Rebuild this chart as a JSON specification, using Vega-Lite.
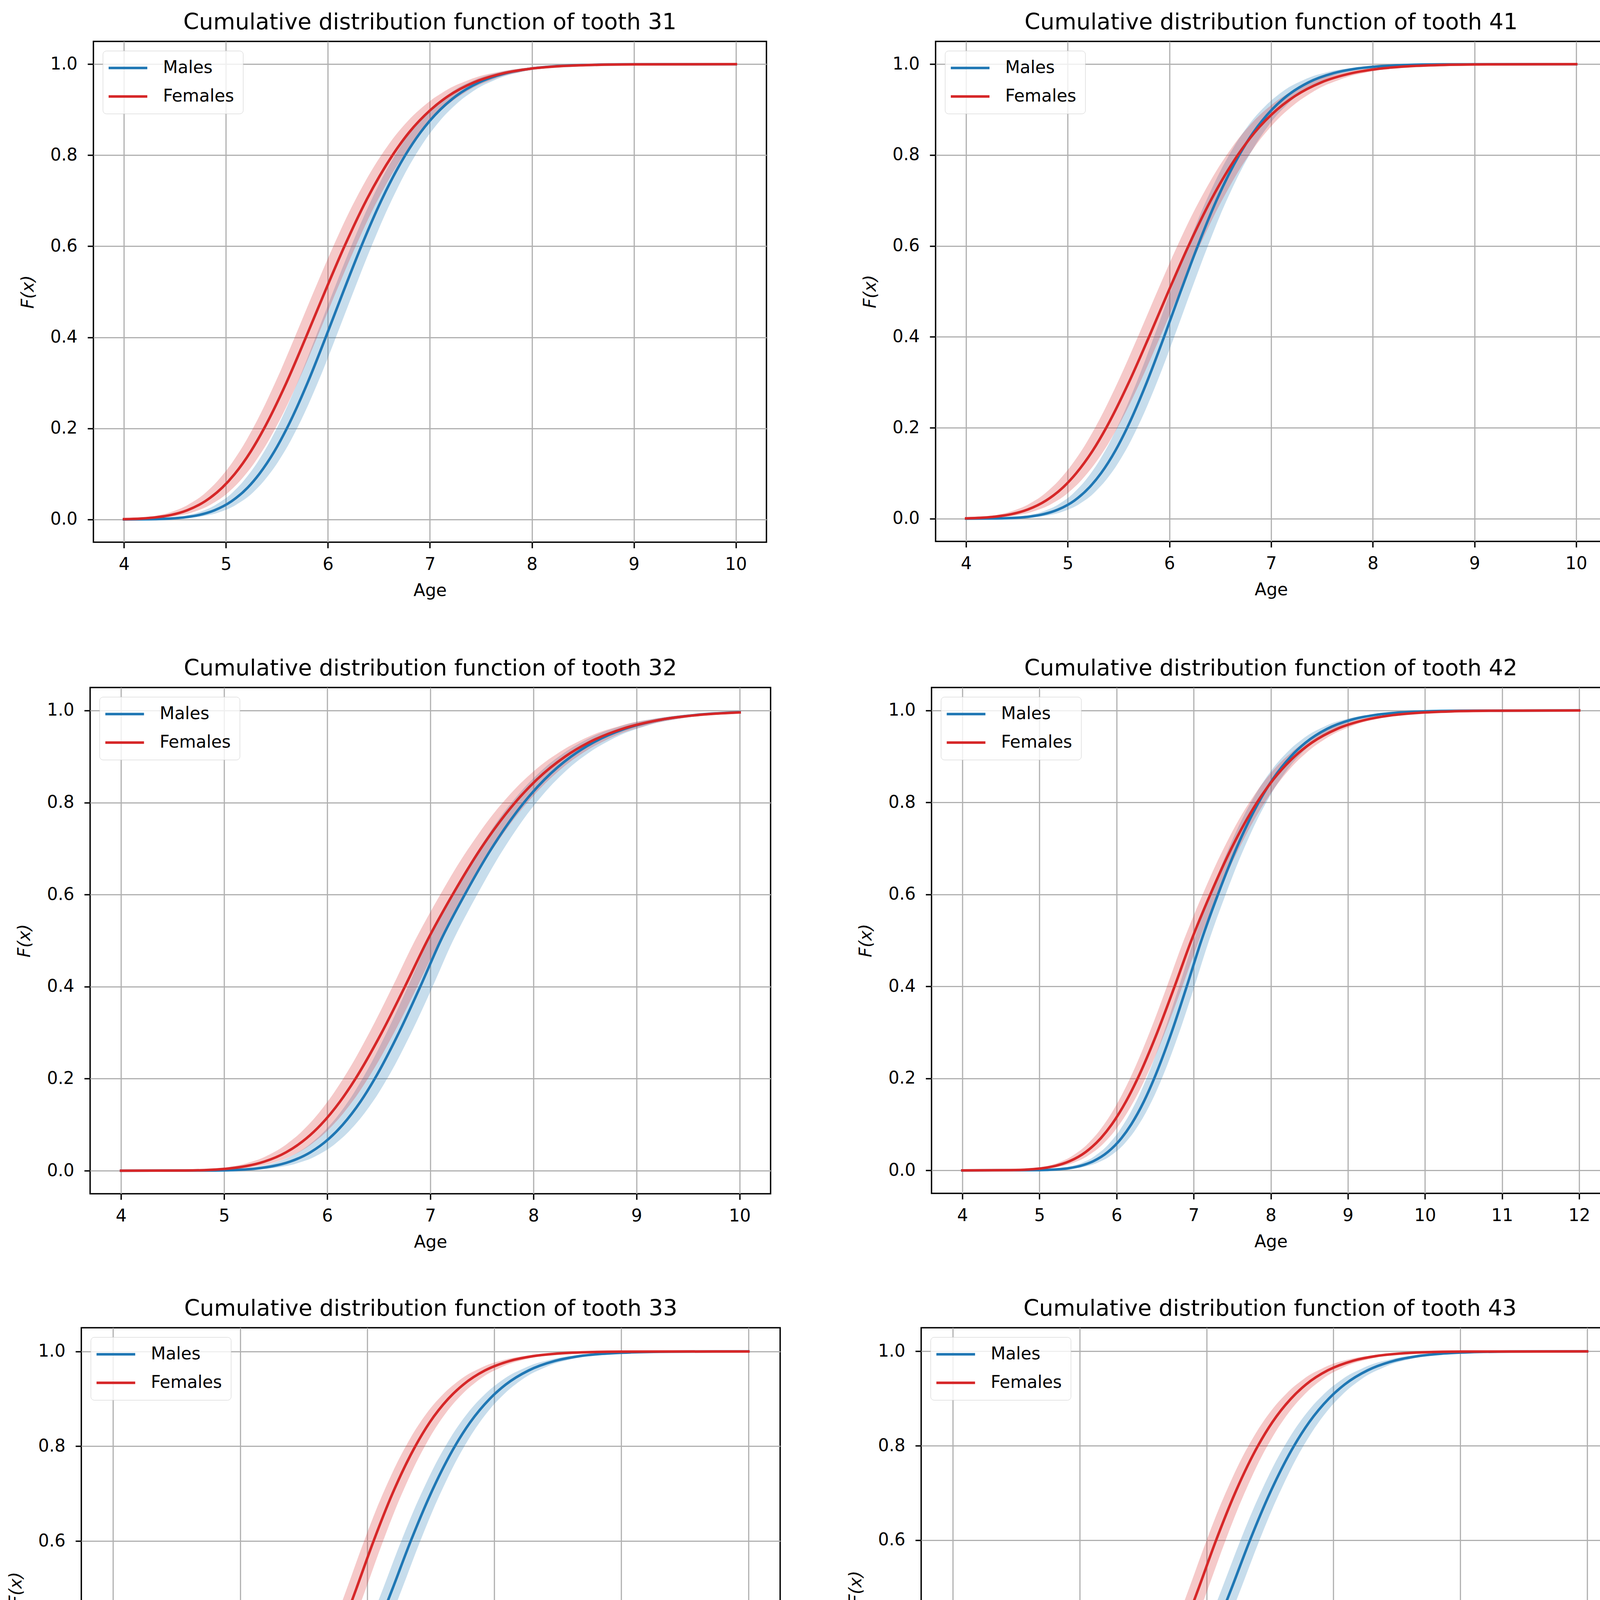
{
  "$schema": "https://vega.github.io/schema/vega-lite/v6.json",
  "background": "white",
  "padding": {"left": 17, "top": 26, "right": 10, "bottom": 10},
  "datasets": {
    "cdf": [
      {"t":31,"s":"Males","F":0,"a":4,"lo":4,"hi":4},
      {"t":31,"s":"Males","F":0.0005,"a":4.254,"lo":4.154,"hi":4.354},
      {"t":31,"s":"Males","F":0.002,"a":4.455,"lo":4.355,"hi":4.555},
      {"t":31,"s":"Males","F":0.005,"a":4.609,"lo":4.509,"hi":4.709},
      {"t":31,"s":"Males","F":0.01,"a":4.740,"lo":4.640,"hi":4.840},
      {"t":31,"s":"Males","F":0.02,"a":4.886,"lo":4.786,"hi":4.986},
      {"t":31,"s":"Males","F":0.04,"a":5.055,"lo":4.955,"hi":5.155},
      {"t":31,"s":"Males","F":0.07,"a":5.213,"lo":5.113,"hi":5.313},
      {"t":31,"s":"Males","F":0.1,"a":5.327,"lo":5.227,"hi":5.427},
      {"t":31,"s":"Males","F":0.15,"a":5.476,"lo":5.376,"hi":5.576},
      {"t":31,"s":"Males","F":0.2,"a":5.597,"lo":5.497,"hi":5.697},
      {"t":31,"s":"Males","F":0.3,"a":5.800,"lo":5.700,"hi":5.900},
      {"t":31,"s":"Males","F":0.4,"a":5.978,"lo":5.878,"hi":6.078},
      {"t":31,"s":"Males","F":0.5,"a":6.150,"lo":6.050,"hi":6.250},
      {"t":31,"s":"Males","F":0.6,"a":6.327,"lo":6.227,"hi":6.427},
      {"t":31,"s":"Males","F":0.7,"a":6.522,"lo":6.422,"hi":6.622},
      {"t":31,"s":"Males","F":0.8,"a":6.758,"lo":6.658,"hi":6.858},
      {"t":31,"s":"Males","F":0.85,"a":6.907,"lo":6.807,"hi":7.007},
      {"t":31,"s":"Males","F":0.9,"a":7.100,"lo":7.000,"hi":7.200},
      {"t":31,"s":"Males","F":0.93,"a":7.256,"lo":7.156,"hi":7.356},
      {"t":31,"s":"Males","F":0.96,"a":7.483,"lo":7.383,"hi":7.583},
      {"t":31,"s":"Males","F":0.98,"a":7.741,"lo":7.641,"hi":7.841},
      {"t":31,"s":"Males","F":0.99,"a":7.980,"lo":7.880,"hi":8.080},
      {"t":31,"s":"Males","F":0.995,"a":8.207,"lo":8.107,"hi":8.307},
      {"t":31,"s":"Males","F":0.998,"a":8.489,"lo":8.389,"hi":8.589},
      {"t":31,"s":"Males","F":0.9995,"a":8.890,"lo":8.790,"hi":8.990},
      {"t":31,"s":"Males","F":1,"a":10,"lo":10,"hi":10},

      {"t":31,"s":"Females","F":0.0007,"a":4,"lo":4,"hi":4},
      {"t":31,"s":"Females","F":0.002,"a":4.166,"lo":4.056,"hi":4.276},
      {"t":31,"s":"Females","F":0.005,"a":4.326,"lo":4.216,"hi":4.436},
      {"t":31,"s":"Females","F":0.01,"a":4.464,"lo":4.354,"hi":4.574},
      {"t":31,"s":"Females","F":0.02,"a":4.618,"lo":4.508,"hi":4.728},
      {"t":31,"s":"Females","F":0.04,"a":4.796,"lo":4.686,"hi":4.906},
      {"t":31,"s":"Females","F":0.07,"a":4.964,"lo":4.854,"hi":5.074},
      {"t":31,"s":"Females","F":0.1,"a":5.086,"lo":4.976,"hi":5.196},
      {"t":31,"s":"Females","F":0.15,"a":5.245,"lo":5.135,"hi":5.355},
      {"t":31,"s":"Females","F":0.2,"a":5.374,"lo":5.264,"hi":5.484},
      {"t":31,"s":"Females","F":0.3,"a":5.592,"lo":5.482,"hi":5.702},
      {"t":31,"s":"Females","F":0.4,"a":5.784,"lo":5.674,"hi":5.894},
      {"t":31,"s":"Females","F":0.5,"a":5.970,"lo":5.860,"hi":6.080},
      {"t":31,"s":"Females","F":0.6,"a":6.162,"lo":6.052,"hi":6.272},
      {"t":31,"s":"Females","F":0.7,"a":6.374,"lo":6.264,"hi":6.484},
      {"t":31,"s":"Females","F":0.8,"a":6.633,"lo":6.523,"hi":6.743},
      {"t":31,"s":"Females","F":0.85,"a":6.795,"lo":6.685,"hi":6.905},
      {"t":31,"s":"Females","F":0.9,"a":7.008,"lo":6.898,"hi":7.118},
      {"t":31,"s":"Females","F":0.93,"a":7.180,"lo":7.070,"hi":7.290},
      {"t":31,"s":"Females","F":0.96,"a":7.431,"lo":7.321,"hi":7.541},
      {"t":31,"s":"Females","F":0.98,"a":7.718,"lo":7.608,"hi":7.828},
      {"t":31,"s":"Females","F":0.99,"a":7.984,"lo":7.874,"hi":8.094},
      {"t":31,"s":"Females","F":0.995,"a":8.238,"lo":8.128,"hi":8.348},
      {"t":31,"s":"Females","F":0.998,"a":8.555,"lo":8.445,"hi":8.665},
      {"t":31,"s":"Females","F":0.9995,"a":9.007,"lo":8.897,"hi":9.117},
      {"t":31,"s":"Females","F":1,"a":10,"lo":10,"hi":10},

      {"t":41,"s":"Males","F":0,"a":4,"lo":4,"hi":4},
      {"t":41,"s":"Males","F":0.0005,"a":4.297,"lo":4.197,"hi":4.397},
      {"t":41,"s":"Males","F":0.002,"a":4.491,"lo":4.391,"hi":4.591},
      {"t":41,"s":"Males","F":0.005,"a":4.638,"lo":4.538,"hi":4.738},
      {"t":41,"s":"Males","F":0.01,"a":4.764,"lo":4.664,"hi":4.864},
      {"t":41,"s":"Males","F":0.02,"a":4.904,"lo":4.804,"hi":5.004},
      {"t":41,"s":"Males","F":0.04,"a":5.066,"lo":4.966,"hi":5.166},
      {"t":41,"s":"Males","F":0.07,"a":5.217,"lo":5.117,"hi":5.317},
      {"t":41,"s":"Males","F":0.1,"a":5.327,"lo":5.227,"hi":5.427},
      {"t":41,"s":"Males","F":0.15,"a":5.469,"lo":5.369,"hi":5.569},
      {"t":41,"s":"Males","F":0.2,"a":5.584,"lo":5.484,"hi":5.684},
      {"t":41,"s":"Males","F":0.3,"a":5.777,"lo":5.677,"hi":5.877},
      {"t":41,"s":"Males","F":0.4,"a":5.947,"lo":5.847,"hi":6.047},
      {"t":41,"s":"Males","F":0.5,"a":6.110,"lo":6.010,"hi":6.210},
      {"t":41,"s":"Males","F":0.6,"a":6.278,"lo":6.178,"hi":6.378},
      {"t":41,"s":"Males","F":0.7,"a":6.462,"lo":6.362,"hi":6.562},
      {"t":41,"s":"Males","F":0.8,"a":6.686,"lo":6.586,"hi":6.786},
      {"t":41,"s":"Males","F":0.85,"a":6.826,"lo":6.726,"hi":6.926},
      {"t":41,"s":"Males","F":0.9,"a":7.008,"lo":6.908,"hi":7.108},
      {"t":41,"s":"Males","F":0.93,"a":7.155,"lo":7.055,"hi":7.255},
      {"t":41,"s":"Males","F":0.96,"a":7.369,"lo":7.269,"hi":7.469},
      {"t":41,"s":"Males","F":0.98,"a":7.612,"lo":7.512,"hi":7.712},
      {"t":41,"s":"Males","F":0.99,"a":7.837,"lo":7.737,"hi":7.937},
      {"t":41,"s":"Males","F":0.995,"a":8.049,"lo":7.949,"hi":8.149},
      {"t":41,"s":"Males","F":0.998,"a":8.314,"lo":8.214,"hi":8.414},
      {"t":41,"s":"Males","F":0.9995,"a":8.688,"lo":8.588,"hi":8.788},
      {"t":41,"s":"Males","F":1,"a":10,"lo":10,"hi":10},

      {"t":41,"s":"Females","F":0.0008,"a":4,"lo":4,"hi":4},
      {"t":41,"s":"Females","F":0.002,"a":4.144,"lo":4.034,"hi":4.254},
      {"t":41,"s":"Females","F":0.005,"a":4.307,"lo":4.197,"hi":4.417},
      {"t":41,"s":"Females","F":0.01,"a":4.448,"lo":4.338,"hi":4.558},
      {"t":41,"s":"Females","F":0.02,"a":4.605,"lo":4.495,"hi":4.715},
      {"t":41,"s":"Females","F":0.04,"a":4.787,"lo":4.677,"hi":4.897},
      {"t":41,"s":"Females","F":0.07,"a":4.959,"lo":4.849,"hi":5.069},
      {"t":41,"s":"Females","F":0.1,"a":5.083,"lo":4.973,"hi":5.193},
      {"t":41,"s":"Females","F":0.15,"a":5.246,"lo":5.136,"hi":5.356},
      {"t":41,"s":"Females","F":0.2,"a":5.378,"lo":5.268,"hi":5.488},
      {"t":41,"s":"Females","F":0.3,"a":5.601,"lo":5.491,"hi":5.711},
      {"t":41,"s":"Females","F":0.4,"a":5.799,"lo":5.689,"hi":5.909},
      {"t":41,"s":"Females","F":0.5,"a":5.990,"lo":5.880,"hi":6.100},
      {"t":41,"s":"Females","F":0.6,"a":6.187,"lo":6.077,"hi":6.297},
      {"t":41,"s":"Females","F":0.7,"a":6.406,"lo":6.296,"hi":6.516},
      {"t":41,"s":"Females","F":0.8,"a":6.672,"lo":6.562,"hi":6.782},
      {"t":41,"s":"Females","F":0.85,"a":6.839,"lo":6.729,"hi":6.949},
      {"t":41,"s":"Females","F":0.9,"a":7.058,"lo":6.948,"hi":7.168},
      {"t":41,"s":"Females","F":0.93,"a":7.236,"lo":7.126,"hi":7.346},
      {"t":41,"s":"Females","F":0.96,"a":7.495,"lo":7.385,"hi":7.605},
      {"t":41,"s":"Females","F":0.98,"a":7.791,"lo":7.681,"hi":7.901},
      {"t":41,"s":"Females","F":0.99,"a":8.067,"lo":7.957,"hi":8.177},
      {"t":41,"s":"Females","F":0.995,"a":8.330,"lo":8.220,"hi":8.440},
      {"t":41,"s":"Females","F":0.998,"a":8.658,"lo":8.548,"hi":8.768},
      {"t":41,"s":"Females","F":0.9995,"a":9.127,"lo":9.017,"hi":9.237},
      {"t":41,"s":"Females","F":1,"a":10,"lo":10,"hi":10},

      {"t":32,"s":"Males","F":0,"a":4,"lo":4,"hi":4},
      {"t":32,"s":"Males","F":0.0005,"a":4.912,"lo":4.792,"hi":5.032},
      {"t":32,"s":"Males","F":0.002,"a":5.144,"lo":5.024,"hi":5.264},
      {"t":32,"s":"Males","F":0.005,"a":5.321,"lo":5.201,"hi":5.441},
      {"t":32,"s":"Males","F":0.01,"a":5.472,"lo":5.352,"hi":5.592},
      {"t":32,"s":"Males","F":0.02,"a":5.641,"lo":5.521,"hi":5.761},
      {"t":32,"s":"Males","F":0.04,"a":5.836,"lo":5.716,"hi":5.956},
      {"t":32,"s":"Males","F":0.07,"a":6.018,"lo":5.898,"hi":6.138},
      {"t":32,"s":"Males","F":0.1,"a":6.150,"lo":6.030,"hi":6.270},
      {"t":32,"s":"Males","F":0.15,"a":6.322,"lo":6.202,"hi":6.442},
      {"t":32,"s":"Males","F":0.2,"a":6.461,"lo":6.341,"hi":6.581},
      {"t":32,"s":"Males","F":0.3,"a":6.695,"lo":6.575,"hi":6.815},
      {"t":32,"s":"Males","F":0.4,"a":6.902,"lo":6.782,"hi":7.022},
      {"t":32,"s":"Males","F":0.5,"a":7.100,"lo":6.980,"hi":7.220},
      {"t":32,"s":"Males","F":0.6,"a":7.334,"lo":7.214,"hi":7.454},
      {"t":32,"s":"Males","F":0.7,"a":7.593,"lo":7.473,"hi":7.713},
      {"t":32,"s":"Males","F":0.8,"a":7.908,"lo":7.788,"hi":8.028},
      {"t":32,"s":"Males","F":0.85,"a":8.107,"lo":7.987,"hi":8.227},
      {"t":32,"s":"Males","F":0.9,"a":8.366,"lo":8.246,"hi":8.486},
      {"t":32,"s":"Males","F":0.93,"a":8.577,"lo":8.457,"hi":8.697},
      {"t":32,"s":"Males","F":0.96,"a":8.884,"lo":8.764,"hi":9.004},
      {"t":32,"s":"Males","F":0.98,"a":9.235,"lo":9.115,"hi":9.355},
      {"t":32,"s":"Males","F":0.99,"a":9.562,"lo":9.442,"hi":9.682},
      {"t":32,"s":"Males","F":0.995,"a":9.873,"lo":9.753,"hi":9.993},
      {"t":32,"s":"Males","F":0.9963,"a":10,"lo":9.880,"hi":10},

      {"t":32,"s":"Females","F":0,"a":4,"lo":4,"hi":4},
      {"t":32,"s":"Females","F":0.0005,"a":4.620,"lo":4.500,"hi":4.740},
      {"t":32,"s":"Females","F":0.002,"a":4.864,"lo":4.744,"hi":4.984},
      {"t":32,"s":"Females","F":0.005,"a":5.051,"lo":4.931,"hi":5.171},
      {"t":32,"s":"Females","F":0.01,"a":5.212,"lo":5.092,"hi":5.332},
      {"t":32,"s":"Females","F":0.02,"a":5.392,"lo":5.272,"hi":5.512},
      {"t":32,"s":"Females","F":0.04,"a":5.600,"lo":5.480,"hi":5.720},
      {"t":32,"s":"Females","F":0.07,"a":5.796,"lo":5.676,"hi":5.916},
      {"t":32,"s":"Females","F":0.1,"a":5.938,"lo":5.818,"hi":6.058},
      {"t":32,"s":"Females","F":0.15,"a":6.123,"lo":6.003,"hi":6.243},
      {"t":32,"s":"Females","F":0.2,"a":6.274,"lo":6.154,"hi":6.394},
      {"t":32,"s":"Females","F":0.3,"a":6.528,"lo":6.408,"hi":6.648},
      {"t":32,"s":"Females","F":0.4,"a":6.753,"lo":6.633,"hi":6.873},
      {"t":32,"s":"Females","F":0.5,"a":6.970,"lo":6.850,"hi":7.090},
      {"t":32,"s":"Females","F":0.6,"a":7.216,"lo":7.096,"hi":7.336},
      {"t":32,"s":"Females","F":0.7,"a":7.489,"lo":7.369,"hi":7.609},
      {"t":32,"s":"Females","F":0.8,"a":7.822,"lo":7.702,"hi":7.942},
      {"t":32,"s":"Females","F":0.85,"a":8.033,"lo":7.913,"hi":8.153},
      {"t":32,"s":"Females","F":0.9,"a":8.308,"lo":8.188,"hi":8.428},
      {"t":32,"s":"Females","F":0.93,"a":8.532,"lo":8.412,"hi":8.652},
      {"t":32,"s":"Females","F":0.96,"a":8.860,"lo":8.740,"hi":8.980},
      {"t":32,"s":"Females","F":0.98,"a":9.235,"lo":9.115,"hi":9.355},
      {"t":32,"s":"Females","F":0.99,"a":9.586,"lo":9.466,"hi":9.706},
      {"t":32,"s":"Females","F":0.995,"a":9.920,"lo":9.800,"hi":10},
      {"t":32,"s":"Females","F":0.9958,"a":10,"lo":9.880,"hi":10},

      {"t":42,"s":"Males","F":0,"a":4,"lo":4,"hi":4},
      {"t":42,"s":"Males","F":0.0005,"a":4.993,"lo":4.893,"hi":5.093},
      {"t":42,"s":"Males","F":0.002,"a":5.218,"lo":5.118,"hi":5.318},
      {"t":42,"s":"Males","F":0.005,"a":5.390,"lo":5.290,"hi":5.490},
      {"t":42,"s":"Males","F":0.01,"a":5.536,"lo":5.436,"hi":5.636},
      {"t":42,"s":"Males","F":0.02,"a":5.699,"lo":5.599,"hi":5.799},
      {"t":42,"s":"Males","F":0.04,"a":5.887,"lo":5.787,"hi":5.987},
      {"t":42,"s":"Males","F":0.07,"a":6.063,"lo":5.963,"hi":6.163},
      {"t":42,"s":"Males","F":0.1,"a":6.190,"lo":6.090,"hi":6.290},
      {"t":42,"s":"Males","F":0.15,"a":6.355,"lo":6.255,"hi":6.455},
      {"t":42,"s":"Males","F":0.2,"a":6.488,"lo":6.388,"hi":6.588},
      {"t":42,"s":"Males","F":0.3,"a":6.713,"lo":6.613,"hi":6.813},
      {"t":42,"s":"Males","F":0.4,"a":6.910,"lo":6.810,"hi":7.010},
      {"t":42,"s":"Males","F":0.5,"a":7.100,"lo":7.000,"hi":7.200},
      {"t":42,"s":"Males","F":0.6,"a":7.315,"lo":7.215,"hi":7.415},
      {"t":42,"s":"Males","F":0.7,"a":7.553,"lo":7.453,"hi":7.653},
      {"t":42,"s":"Males","F":0.8,"a":7.842,"lo":7.742,"hi":7.942},
      {"t":42,"s":"Males","F":0.85,"a":8.023,"lo":7.923,"hi":8.123},
      {"t":42,"s":"Males","F":0.9,"a":8.260,"lo":8.160,"hi":8.360},
      {"t":42,"s":"Males","F":0.93,"a":8.451,"lo":8.351,"hi":8.551},
      {"t":42,"s":"Males","F":0.96,"a":8.730,"lo":8.630,"hi":8.830},
      {"t":42,"s":"Males","F":0.98,"a":9.047,"lo":8.947,"hi":9.147},
      {"t":42,"s":"Males","F":0.99,"a":9.343,"lo":9.243,"hi":9.443},
      {"t":42,"s":"Males","F":0.995,"a":9.622,"lo":9.522,"hi":9.722},
      {"t":42,"s":"Males","F":0.998,"a":9.971,"lo":9.871,"hi":10.071},
      {"t":42,"s":"Males","F":0.9995,"a":10.468,"lo":10.368,"hi":10.568},
      {"t":42,"s":"Males","F":1,"a":12,"lo":12,"hi":12},

      {"t":42,"s":"Females","F":0,"a":4,"lo":4,"hi":4},
      {"t":42,"s":"Females","F":0.0005,"a":4.620,"lo":4.520,"hi":4.720},
      {"t":42,"s":"Females","F":0.002,"a":4.864,"lo":4.764,"hi":4.964},
      {"t":42,"s":"Females","F":0.005,"a":5.051,"lo":4.951,"hi":5.151},
      {"t":42,"s":"Females","F":0.01,"a":5.212,"lo":5.112,"hi":5.312},
      {"t":42,"s":"Females","F":0.02,"a":5.392,"lo":5.292,"hi":5.492},
      {"t":42,"s":"Females","F":0.04,"a":5.600,"lo":5.500,"hi":5.700},
      {"t":42,"s":"Females","F":0.07,"a":5.796,"lo":5.696,"hi":5.896},
      {"t":42,"s":"Females","F":0.1,"a":5.938,"lo":5.838,"hi":6.038},
      {"t":42,"s":"Females","F":0.15,"a":6.123,"lo":6.023,"hi":6.223},
      {"t":42,"s":"Females","F":0.2,"a":6.274,"lo":6.174,"hi":6.374},
      {"t":42,"s":"Females","F":0.3,"a":6.528,"lo":6.428,"hi":6.628},
      {"t":42,"s":"Females","F":0.4,"a":6.753,"lo":6.653,"hi":6.853},
      {"t":42,"s":"Females","F":0.5,"a":6.970,"lo":6.870,"hi":7.070},
      {"t":42,"s":"Females","F":0.6,"a":7.216,"lo":7.116,"hi":7.316},
      {"t":42,"s":"Females","F":0.7,"a":7.489,"lo":7.389,"hi":7.589},
      {"t":42,"s":"Females","F":0.8,"a":7.822,"lo":7.722,"hi":7.922},
      {"t":42,"s":"Females","F":0.85,"a":8.033,"lo":7.933,"hi":8.133},
      {"t":42,"s":"Females","F":0.9,"a":8.308,"lo":8.208,"hi":8.408},
      {"t":42,"s":"Females","F":0.93,"a":8.532,"lo":8.432,"hi":8.632},
      {"t":42,"s":"Females","F":0.96,"a":8.860,"lo":8.760,"hi":8.960},
      {"t":42,"s":"Females","F":0.98,"a":9.235,"lo":9.135,"hi":9.335},
      {"t":42,"s":"Females","F":0.99,"a":9.586,"lo":9.486,"hi":9.686},
      {"t":42,"s":"Females","F":0.995,"a":9.920,"lo":9.820,"hi":10.020},
      {"t":42,"s":"Females","F":0.998,"a":10.339,"lo":10.239,"hi":10.439},
      {"t":42,"s":"Females","F":0.9995,"a":10.939,"lo":10.839,"hi":11.039},
      {"t":42,"s":"Females","F":1,"a":12,"lo":12,"hi":12},

      {"t":33,"s":"Males","F":0,"a":6,"lo":6,"hi":6},
      {"t":33,"s":"Males","F":0.0005,"a":7.195,"lo":7.045,"hi":7.345},
      {"t":33,"s":"Males","F":0.002,"a":7.534,"lo":7.384,"hi":7.684},
      {"t":33,"s":"Males","F":0.005,"a":7.794,"lo":7.644,"hi":7.944},
      {"t":33,"s":"Males","F":0.01,"a":8.015,"lo":7.865,"hi":8.165},
      {"t":33,"s":"Males","F":0.02,"a":8.263,"lo":8.113,"hi":8.413},
      {"t":33,"s":"Males","F":0.04,"a":8.548,"lo":8.398,"hi":8.698},
      {"t":33,"s":"Males","F":0.07,"a":8.815,"lo":8.665,"hi":8.965},
      {"t":33,"s":"Males","F":0.1,"a":9.009,"lo":8.859,"hi":9.159},
      {"t":33,"s":"Males","F":0.15,"a":9.261,"lo":9.111,"hi":9.411},
      {"t":33,"s":"Males","F":0.2,"a":9.464,"lo":9.314,"hi":9.614},
      {"t":33,"s":"Males","F":0.3,"a":9.807,"lo":9.657,"hi":9.957},
      {"t":33,"s":"Males","F":0.4,"a":10.109,"lo":9.959,"hi":10.259},
      {"t":33,"s":"Males","F":0.5,"a":10.400,"lo":10.250,"hi":10.550},
      {"t":33,"s":"Males","F":0.6,"a":10.685,"lo":10.535,"hi":10.835},
      {"t":33,"s":"Males","F":0.7,"a":11.000,"lo":10.850,"hi":11.150},
      {"t":33,"s":"Males","F":0.8,"a":11.380,"lo":11.230,"hi":11.530},
      {"t":33,"s":"Males","F":0.85,"a":11.619,"lo":11.469,"hi":11.769},
      {"t":33,"s":"Males","F":0.9,"a":11.929,"lo":11.779,"hi":12.079},
      {"t":33,"s":"Males","F":0.93,"a":12.179,"lo":12.029,"hi":12.329},
      {"t":33,"s":"Males","F":0.96,"a":12.543,"lo":12.393,"hi":12.693},
      {"t":33,"s":"Males","F":0.98,"a":12.956,"lo":12.806,"hi":13.106},
      {"t":33,"s":"Males","F":0.99,"a":13.339,"lo":13.189,"hi":13.489},
      {"t":33,"s":"Males","F":0.995,"a":13.701,"lo":13.551,"hi":13.851},
      {"t":33,"s":"Males","F":0.998,"a":14.151,"lo":14.001,"hi":14.301},
      {"t":33,"s":"Males","F":0.9995,"a":14.788,"lo":14.638,"hi":14.938},
      {"t":33,"s":"Males","F":1,"a":16,"lo":16,"hi":16},

      {"t":33,"s":"Females","F":0,"a":6,"lo":6,"hi":6},
      {"t":33,"s":"Females","F":0.0005,"a":6.800,"lo":6.650,"hi":6.950},
      {"t":33,"s":"Females","F":0.002,"a":7.121,"lo":6.971,"hi":7.271},
      {"t":33,"s":"Females","F":0.005,"a":7.366,"lo":7.216,"hi":7.516},
      {"t":33,"s":"Females","F":0.01,"a":7.576,"lo":7.426,"hi":7.726},
      {"t":33,"s":"Females","F":0.02,"a":7.810,"lo":7.660,"hi":7.960},
      {"t":33,"s":"Females","F":0.04,"a":8.079,"lo":7.929,"hi":8.229},
      {"t":33,"s":"Females","F":0.07,"a":8.332,"lo":8.182,"hi":8.482},
      {"t":33,"s":"Females","F":0.1,"a":8.515,"lo":8.365,"hi":8.665},
      {"t":33,"s":"Females","F":0.15,"a":8.753,"lo":8.603,"hi":8.903},
      {"t":33,"s":"Females","F":0.2,"a":8.945,"lo":8.795,"hi":9.095},
      {"t":33,"s":"Females","F":0.3,"a":9.270,"lo":9.120,"hi":9.420},
      {"t":33,"s":"Females","F":0.4,"a":9.555,"lo":9.405,"hi":9.705},
      {"t":33,"s":"Females","F":0.5,"a":9.830,"lo":9.680,"hi":9.980},
      {"t":33,"s":"Females","F":0.6,"a":10.100,"lo":9.950,"hi":10.250},
      {"t":33,"s":"Females","F":0.7,"a":10.397,"lo":10.247,"hi":10.547},
      {"t":33,"s":"Females","F":0.8,"a":10.757,"lo":10.607,"hi":10.907},
      {"t":33,"s":"Females","F":0.85,"a":10.982,"lo":10.832,"hi":11.132},
      {"t":33,"s":"Females","F":0.9,"a":11.275,"lo":11.125,"hi":11.425},
      {"t":33,"s":"Females","F":0.93,"a":11.512,"lo":11.362,"hi":11.662},
      {"t":33,"s":"Females","F":0.96,"a":11.856,"lo":11.706,"hi":12.006},
      {"t":33,"s":"Females","F":0.98,"a":12.246,"lo":12.096,"hi":12.396},
      {"t":33,"s":"Females","F":0.99,"a":12.608,"lo":12.458,"hi":12.758},
      {"t":33,"s":"Females","F":0.995,"a":12.950,"lo":12.800,"hi":13.100},
      {"t":33,"s":"Females","F":0.998,"a":13.375,"lo":13.225,"hi":13.525},
      {"t":33,"s":"Females","F":0.9995,"a":13.978,"lo":13.828,"hi":14.128},
      {"t":33,"s":"Females","F":1,"a":16,"lo":16,"hi":16},

      {"t":43,"s":"Males","F":0,"a":6,"lo":6,"hi":6},
      {"t":43,"s":"Males","F":0.0005,"a":7.195,"lo":7.045,"hi":7.345},
      {"t":43,"s":"Males","F":0.002,"a":7.534,"lo":7.384,"hi":7.684},
      {"t":43,"s":"Males","F":0.005,"a":7.794,"lo":7.644,"hi":7.944},
      {"t":43,"s":"Males","F":0.01,"a":8.015,"lo":7.865,"hi":8.165},
      {"t":43,"s":"Males","F":0.02,"a":8.263,"lo":8.113,"hi":8.413},
      {"t":43,"s":"Males","F":0.04,"a":8.548,"lo":8.398,"hi":8.698},
      {"t":43,"s":"Males","F":0.07,"a":8.815,"lo":8.665,"hi":8.965},
      {"t":43,"s":"Males","F":0.1,"a":9.009,"lo":8.859,"hi":9.159},
      {"t":43,"s":"Males","F":0.15,"a":9.261,"lo":9.111,"hi":9.411},
      {"t":43,"s":"Males","F":0.2,"a":9.464,"lo":9.314,"hi":9.614},
      {"t":43,"s":"Males","F":0.3,"a":9.807,"lo":9.657,"hi":9.957},
      {"t":43,"s":"Males","F":0.4,"a":10.109,"lo":9.959,"hi":10.259},
      {"t":43,"s":"Males","F":0.5,"a":10.400,"lo":10.250,"hi":10.550},
      {"t":43,"s":"Males","F":0.6,"a":10.685,"lo":10.535,"hi":10.835},
      {"t":43,"s":"Males","F":0.7,"a":11.000,"lo":10.850,"hi":11.150},
      {"t":43,"s":"Males","F":0.8,"a":11.380,"lo":11.230,"hi":11.530},
      {"t":43,"s":"Males","F":0.85,"a":11.619,"lo":11.469,"hi":11.769},
      {"t":43,"s":"Males","F":0.9,"a":11.929,"lo":11.779,"hi":12.079},
      {"t":43,"s":"Males","F":0.93,"a":12.179,"lo":12.029,"hi":12.329},
      {"t":43,"s":"Males","F":0.96,"a":12.543,"lo":12.393,"hi":12.693},
      {"t":43,"s":"Males","F":0.98,"a":12.956,"lo":12.806,"hi":13.106},
      {"t":43,"s":"Males","F":0.99,"a":13.339,"lo":13.189,"hi":13.489},
      {"t":43,"s":"Males","F":0.995,"a":13.701,"lo":13.551,"hi":13.851},
      {"t":43,"s":"Males","F":0.998,"a":14.151,"lo":14.001,"hi":14.301},
      {"t":43,"s":"Males","F":0.9995,"a":14.788,"lo":14.638,"hi":14.938},
      {"t":43,"s":"Males","F":1,"a":16,"lo":16,"hi":16},

      {"t":43,"s":"Females","F":0,"a":6,"lo":6,"hi":6},
      {"t":43,"s":"Females","F":0.0005,"a":6.835,"lo":6.685,"hi":6.985},
      {"t":43,"s":"Females","F":0.002,"a":7.158,"lo":7.008,"hi":7.308},
      {"t":43,"s":"Females","F":0.005,"a":7.404,"lo":7.254,"hi":7.554},
      {"t":43,"s":"Females","F":0.01,"a":7.614,"lo":7.464,"hi":7.764},
      {"t":43,"s":"Females","F":0.02,"a":7.850,"lo":7.700,"hi":8.000},
      {"t":43,"s":"Females","F":0.04,"a":8.121,"lo":7.971,"hi":8.271},
      {"t":43,"s":"Females","F":0.07,"a":8.375,"lo":8.225,"hi":8.525},
      {"t":43,"s":"Females","F":0.1,"a":8.559,"lo":8.409,"hi":8.709},
      {"t":43,"s":"Females","F":0.15,"a":8.798,"lo":8.648,"hi":8.948},
      {"t":43,"s":"Females","F":0.2,"a":8.991,"lo":8.841,"hi":9.141},
      {"t":43,"s":"Females","F":0.3,"a":9.317,"lo":9.167,"hi":9.467},
      {"t":43,"s":"Females","F":0.4,"a":9.604,"lo":9.454,"hi":9.754},
      {"t":43,"s":"Females","F":0.5,"a":9.880,"lo":9.730,"hi":10.030},
      {"t":43,"s":"Females","F":0.6,"a":10.151,"lo":10.001,"hi":10.301},
      {"t":43,"s":"Females","F":0.7,"a":10.450,"lo":10.300,"hi":10.600},
      {"t":43,"s":"Females","F":0.8,"a":10.811,"lo":10.661,"hi":10.961},
      {"t":43,"s":"Females","F":0.85,"a":11.038,"lo":10.888,"hi":11.188},
      {"t":43,"s":"Females","F":0.9,"a":11.333,"lo":11.183,"hi":11.483},
      {"t":43,"s":"Females","F":0.93,"a":11.570,"lo":11.420,"hi":11.720},
      {"t":43,"s":"Females","F":0.96,"a":11.916,"lo":11.766,"hi":12.066},
      {"t":43,"s":"Females","F":0.98,"a":12.309,"lo":12.159,"hi":12.459},
      {"t":43,"s":"Females","F":0.99,"a":12.672,"lo":12.522,"hi":12.822},
      {"t":43,"s":"Females","F":0.995,"a":13.016,"lo":12.866,"hi":13.166},
      {"t":43,"s":"Females","F":0.998,"a":13.443,"lo":13.293,"hi":13.593},
      {"t":43,"s":"Females","F":0.9995,"a":14.049,"lo":13.899,"hi":14.199},
      {"t":43,"s":"Females","F":1,"a":16,"lo":16,"hi":16}
    ]
  },
  "data": {"name": "cdf"},
  "center": true,
  "spacing": 144,
  "resolve": {"scale": {"color": "independent"}},
  "vconcat": [
    {
      "spacing": 240,
      "resolve": {"scale": {"color": "independent"}},
      "hconcat": [
        {
          "width": 1723, "height": 1282,
          "title": "Cumulative distribution function of tooth 31",
          "transform": [{"filter": "datum.t == 31"}],
          "layer": [
            {
              "mark": {"type": "area", "orient": "horizontal", "interpolate": "monotone", "opacity": 0.25},
              "encoding": {
                "y": {"field": "F", "type": "quantitative", "scale": {"domain": [-0.05, 1.05], "nice": false, "zero": false}, "axis": {"title": "F(x)", "values": [0, 0.2, 0.4, 0.6, 0.8, 1], "format": ".1f"}},
                "x": {"field": "lo", "type": "quantitative", "scale": {"domain": [3.7, 10.3], "nice": false, "zero": false}, "axis": {"title": "Age", "values": [4, 5, 6, 7, 8, 9, 10]}},
                "x2": {"field": "hi"},
                "fill": {"field": "s", "type": "nominal", "scale": {"domain": ["Males", "Females"], "range": ["#1f77b4", "#d62728"]}, "legend": null}
              }
            },
            {
              "mark": {"type": "line", "interpolate": "monotone", "strokeWidth": 6.5, "strokeCap": "square"},
              "encoding": {
                "y": {"field": "F", "type": "quantitative", "axis": {"title": "F(x)", "values": [0, 0.2, 0.4, 0.6, 0.8, 1], "format": ".1f"}},
                "x": {"field": "a", "type": "quantitative", "axis": {"title": "Age", "values": [4, 5, 6, 7, 8, 9, 10]}},
                "color": {"field": "s", "type": "nominal", "scale": {"domain": ["Males", "Females"], "range": ["#1f77b4", "#d62728"]}, "legend": {"title": null}}
              }
            }
          ]
        },
        {
          "width": 1718, "height": 1280,
          "title": "Cumulative distribution function of tooth 41",
          "transform": [{"filter": "datum.t == 41"}],
          "layer": [
            {
              "mark": {"type": "area", "orient": "horizontal", "interpolate": "monotone", "opacity": 0.25},
              "encoding": {
                "y": {"field": "F", "type": "quantitative", "scale": {"domain": [-0.05, 1.05], "nice": false, "zero": false}, "axis": {"title": "F(x)", "values": [0, 0.2, 0.4, 0.6, 0.8, 1], "format": ".1f"}},
                "x": {"field": "lo", "type": "quantitative", "scale": {"domain": [3.7, 10.3], "nice": false, "zero": false}, "axis": {"title": "Age", "values": [4, 5, 6, 7, 8, 9, 10]}},
                "x2": {"field": "hi"},
                "fill": {"field": "s", "type": "nominal", "scale": {"domain": ["Males", "Females"], "range": ["#1f77b4", "#d62728"]}, "legend": null}
              }
            },
            {
              "mark": {"type": "line", "interpolate": "monotone", "strokeWidth": 6.5, "strokeCap": "square"},
              "encoding": {
                "y": {"field": "F", "type": "quantitative", "axis": {"title": "F(x)", "values": [0, 0.2, 0.4, 0.6, 0.8, 1], "format": ".1f"}},
                "x": {"field": "a", "type": "quantitative", "axis": {"title": "Age", "values": [4, 5, 6, 7, 8, 9, 10]}},
                "color": {"field": "s", "type": "nominal", "scale": {"domain": ["Males", "Females"], "range": ["#1f77b4", "#d62728"]}, "legend": {"title": null}}
              }
            }
          ]
        }
      ]
    },
    {
      "center": true,
      "spacing": 115,
      "resolve": {"scale": {"color": "independent"}},
      "vconcat": [
        {
          "spacing": 219,
          "resolve": {"scale": {"color": "independent"}},
          "hconcat": [
            {
              "width": 1742, "height": 1296,
              "title": "Cumulative distribution function of tooth 32",
              "transform": [{"filter": "datum.t == 32"}],
              "layer": [
                {
                  "mark": {"type": "area", "orient": "horizontal", "interpolate": "monotone", "opacity": 0.25},
                  "encoding": {
                    "y": {"field": "F", "type": "quantitative", "scale": {"domain": [-0.05, 1.05], "nice": false, "zero": false}, "axis": {"title": "F(x)", "values": [0, 0.2, 0.4, 0.6, 0.8, 1], "format": ".1f"}},
                    "x": {"field": "lo", "type": "quantitative", "scale": {"domain": [3.7, 10.3], "nice": false, "zero": false}, "axis": {"title": "Age", "values": [4, 5, 6, 7, 8, 9, 10]}},
                    "x2": {"field": "hi"},
                    "fill": {"field": "s", "type": "nominal", "scale": {"domain": ["Males", "Females"], "range": ["#1f77b4", "#d62728"]}, "legend": null}
                  }
                },
                {
                  "mark": {"type": "line", "interpolate": "monotone", "strokeWidth": 6.5, "strokeCap": "square"},
                  "encoding": {
                    "y": {"field": "F", "type": "quantitative", "axis": {"title": "F(x)", "values": [0, 0.2, 0.4, 0.6, 0.8, 1], "format": ".1f"}},
                    "x": {"field": "a", "type": "quantitative", "axis": {"title": "Age", "values": [4, 5, 6, 7, 8, 9, 10]}},
                    "color": {"field": "s", "type": "nominal", "scale": {"domain": ["Males", "Females"], "range": ["#1f77b4", "#d62728"]}, "legend": {"title": null}}
                  }
                }
              ]
            },
            {
              "width": 1737, "height": 1295,
              "title": "Cumulative distribution function of tooth 42",
              "transform": [{"filter": "datum.t == 42"}],
              "layer": [
                {
                  "mark": {"type": "area", "orient": "horizontal", "interpolate": "monotone", "opacity": 0.25},
                  "encoding": {
                    "y": {"field": "F", "type": "quantitative", "scale": {"domain": [-0.05, 1.05], "nice": false, "zero": false}, "axis": {"title": "F(x)", "values": [0, 0.2, 0.4, 0.6, 0.8, 1], "format": ".1f"}},
                    "x": {"field": "lo", "type": "quantitative", "scale": {"domain": [3.6, 12.4], "nice": false, "zero": false}, "axis": {"title": "Age", "values": [4, 5, 6, 7, 8, 9, 10, 11, 12]}},
                    "x2": {"field": "hi"},
                    "fill": {"field": "s", "type": "nominal", "scale": {"domain": ["Males", "Females"], "range": ["#1f77b4", "#d62728"]}, "legend": null}
                  }
                },
                {
                  "mark": {"type": "line", "interpolate": "monotone", "strokeWidth": 6.5, "strokeCap": "square"},
                  "encoding": {
                    "y": {"field": "F", "type": "quantitative", "axis": {"title": "F(x)", "values": [0, 0.2, 0.4, 0.6, 0.8, 1], "format": ".1f"}},
                    "x": {"field": "a", "type": "quantitative", "axis": {"title": "Age", "values": [4, 5, 6, 7, 8, 9, 10, 11, 12]}},
                    "color": {"field": "s", "type": "nominal", "scale": {"domain": ["Males", "Females"], "range": ["#1f77b4", "#d62728"]}, "legend": {"title": null}}
                  }
                }
              ]
            }
          ]
        },
        {
          "spacing": 168,
          "resolve": {"scale": {"color": "independent"}},
          "hconcat": [
            {
              "width": 1789, "height": 1335,
              "title": "Cumulative distribution function of tooth 33",
              "transform": [{"filter": "datum.t == 33"}],
              "layer": [
                {
                  "mark": {"type": "area", "orient": "horizontal", "interpolate": "monotone", "opacity": 0.25},
                  "encoding": {
                    "y": {"field": "F", "type": "quantitative", "scale": {"domain": [-0.05, 1.05], "nice": false, "zero": false}, "axis": {"title": "F(x)", "values": [0, 0.2, 0.4, 0.6, 0.8, 1], "format": ".1f"}},
                    "x": {"field": "lo", "type": "quantitative", "scale": {"domain": [5.5, 16.5], "nice": false, "zero": false}, "axis": {"title": "Age", "values": [6, 8, 10, 12, 14, 16]}},
                    "x2": {"field": "hi"},
                    "fill": {"field": "s", "type": "nominal", "scale": {"domain": ["Males", "Females"], "range": ["#1f77b4", "#d62728"]}, "legend": null}
                  }
                },
                {
                  "mark": {"type": "line", "interpolate": "monotone", "strokeWidth": 6.5, "strokeCap": "square"},
                  "encoding": {
                    "y": {"field": "F", "type": "quantitative", "axis": {"title": "F(x)", "values": [0, 0.2, 0.4, 0.6, 0.8, 1], "format": ".1f"}},
                    "x": {"field": "a", "type": "quantitative", "axis": {"title": "Age", "values": [6, 8, 10, 12, 14, 16]}},
                    "color": {"field": "s", "type": "nominal", "scale": {"domain": ["Males", "Females"], "range": ["#1f77b4", "#d62728"]}, "legend": {"title": null}}
                  }
                }
              ]
            },
            {
              "width": 1786, "height": 1329,
              "title": "Cumulative distribution function of tooth 43",
              "transform": [{"filter": "datum.t == 43"}],
              "layer": [
                {
                  "mark": {"type": "area", "orient": "horizontal", "interpolate": "monotone", "opacity": 0.25},
                  "encoding": {
                    "y": {"field": "F", "type": "quantitative", "scale": {"domain": [-0.05, 1.05], "nice": false, "zero": false}, "axis": {"title": "F(x)", "values": [0, 0.2, 0.4, 0.6, 0.8, 1], "format": ".1f"}},
                    "x": {"field": "lo", "type": "quantitative", "scale": {"domain": [5.5, 16.5], "nice": false, "zero": false}, "axis": {"title": "Age", "values": [6, 8, 10, 12, 14, 16]}},
                    "x2": {"field": "hi"},
                    "fill": {"field": "s", "type": "nominal", "scale": {"domain": ["Males", "Females"], "range": ["#1f77b4", "#d62728"]}, "legend": null}
                  }
                },
                {
                  "mark": {"type": "line", "interpolate": "monotone", "strokeWidth": 6.5, "strokeCap": "square"},
                  "encoding": {
                    "y": {"field": "F", "type": "quantitative", "axis": {"title": "F(x)", "values": [0, 0.2, 0.4, 0.6, 0.8, 1], "format": ".1f"}},
                    "x": {"field": "a", "type": "quantitative", "axis": {"title": "Age", "values": [6, 8, 10, 12, 14, 16]}},
                    "color": {"field": "s", "type": "nominal", "scale": {"domain": ["Males", "Females"], "range": ["#1f77b4", "#d62728"]}, "legend": {"title": null}}
                  }
                }
              ]
            }
          ]
        }
      ]
    }
  ],
  "config": {
    "font": "DejaVu Sans",
    "view": {"stroke": "black", "strokeWidth": 3.5, "fill": "white"},
    "axis": {
      "domain": false,
      "grid": true,
      "gridColor": "#b0b0b0",
      "gridWidth": 3,
      "tickColor": "black",
      "tickWidth": 3.5,
      "tickSize": 15,
      "labelFont": "DejaVu Sans",
      "labelFontSize": 44,
      "labelColor": "black",
      "labelPadding": 20,
      "labelFlush": false,
      "titleFont": "DejaVu Sans",
      "titleFontSize": 44,
      "titleFontWeight": "normal",
      "titleColor": "black"
    },
    "axisX": {"titlePadding": 23},
    "axisY": {"labelPadding": 26, "titlePadding": 34, "titleFontStyle": "italic"},
    "legend": {
      "orient": "top-left",
      "offset": 24,
      "symbolType": "M-1.76,0H4.24",
      "symbolSize": 1089,
      "symbolStrokeWidth": 6.5,
      "labelOffset": 88,
      "labelLimit": 600,
      "rowPadding": 29,
      "padding": 22,
      "labelFont": "DejaVu Sans",
      "labelFontSize": 44,
      "labelColor": "black",
      "strokeColor": "#cccccc",
      "fillColor": "rgba(255,255,255,0.8)",
      "cornerRadius": 9
    },
    "title": {
      "font": "DejaVu Sans",
      "fontSize": 57.5,
      "fontWeight": "normal",
      "color": "black",
      "frame": "group",
      "anchor": "middle",
      "baseline": "alphabetic",
      "offset": 19
    }
  }
}
